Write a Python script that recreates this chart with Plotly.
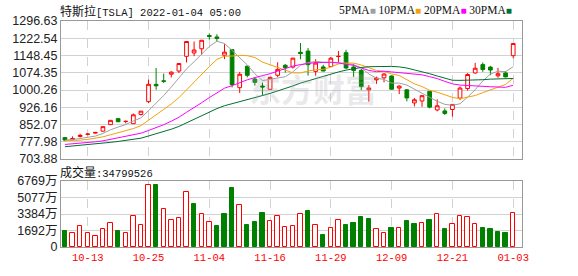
import plotly.graph_objects as go
import pandas as pd

# ---------------- data ----------------
dates = ["10-08","10-11","10-12","10-13","10-14","10-15","10-18","10-19","10-20","10-21","10-22",
         "10-25","10-26","10-27","10-28","10-29","11-01","11-02","11-03","11-04","11-05","11-08",
         "11-09","11-10","11-11","11-12","11-15","11-16","11-17","11-18","11-19","11-22","11-23",
         "11-24","11-26","11-29","11-30","12-01","12-02","12-03","12-06","12-07","12-08","12-09",
         "12-10","12-13","12-14","12-15","12-16","12-17","12-20","12-21","12-22","12-23","12-27",
         "12-28","12-29","12-30","12-31","01-03"]

opens = [796.21, 787.65, 800.93, 810.47, 815.49, 823.74, 851.77, 877.53, 865.35, 856.00, 895.50,
         950.53, 1024.69, 1039.66, 1068.31, 1081.86, 1145.00, 1159.36, 1177.33, 1234.41, 1228.00,
         1149.79, 1173.60, 1010.41, 1102.77, 1047.50, 1017.63, 1003.31, 1063.51, 1106.55, 1098.87,
         1162.33, 1167.51, 1080.39, 1099.47, 1100.99, 1144.37, 1160.70, 1099.06, 1084.79, 1001.51,
         1044.20, 1052.71, 1060.64, 1008.75, 1001.09, 945.00, 953.21, 994.50, 914.77, 910.80,
         916.87, 965.66, 1006.80, 1073.67, 1109.49, 1098.64, 1061.33, 1073.44, 1147.75]
highs = [796.38, 801.24, 812.32, 815.41, 820.25, 843.21, 870.80, 877.95, 869.49, 900.00, 910.00,
         1045.02, 1094.94, 1070.88, 1081.00, 1115.21, 1209.75, 1208.59, 1215.39, 1243.49, 1239.87,
         1197.00, 1174.50, 1078.10, 1104.97, 1054.50, 1031.98, 1057.20, 1119.64, 1112.00, 1138.72,
         1201.95, 1180.50, 1132.77, 1108.78, 1142.67, 1168.00, 1172.84, 1113.00, 1090.58, 1021.64,
         1057.67, 1072.38, 1062.49, 1020.98, 1005.00, 966.41, 978.75, 994.98, 960.66, 921.69,
         939.50, 1015.66, 1072.98, 1117.00, 1119.00, 1104.00, 1095.55, 1082.00, 1201.07]
lows = [780.91, 785.50, 796.57, 805.78, 813.35, 822.35, 851.02, 862.51, 857.38, 855.50, 890.96,
        944.20, 1001.44, 1030.78, 1054.20, 1073.21, 1118.66, 1146.00, 1152.62, 1217.00, 1208.00,
        1133.00, 1011.52, 987.31, 1054.68, 1019.20, 978.60, 1002.18, 1055.50, 1075.02, 1092.70,
        1132.43, 1062.70, 1062.00, 1081.00, 1100.19, 1118.00, 1090.76, 1056.65, 1000.21, 950.50,
        1026.81, 1033.00, 1002.36, 982.53, 951.42, 930.00, 928.25, 921.85, 909.04, 893.39,
        886.12, 957.05, 997.56, 1070.72, 1078.42, 1064.14, 1053.15, 1054.59, 1136.72]
closes = [785.49, 791.94, 805.72, 811.08, 818.32, 843.03, 870.11, 864.27, 865.80, 894.00, 909.68,
          1024.86, 1018.43, 1037.86, 1077.04, 1114.00, 1208.59, 1172.00, 1213.86, 1229.91, 1222.09,
          1162.94, 1023.50, 1067.95, 1063.51, 1033.42, 1013.39, 1054.73, 1089.01, 1096.38, 1137.06,
          1156.87, 1109.03, 1116.00, 1081.92, 1136.99, 1144.76, 1095.00, 1084.60, 1014.97, 1009.01,
          1051.75, 1068.96, 1003.80, 1017.03, 966.41, 958.51, 975.99, 926.92, 932.57, 899.94,
          938.53, 1008.87, 1067.00, 1093.94, 1088.47, 1086.19, 1070.34, 1056.78, 1199.78]
# closes of the 29 sessions before the first bar (needed for the moving averages)
pre_closes = [711.92, 730.91, 735.72, 734.09, 732.39, 733.57, 752.92, 753.87, 754.86, 736.27,
              743.00, 744.49, 755.83, 756.99, 759.49, 730.17, 739.38, 751.94, 753.64, 774.39,
              791.36, 777.56, 781.31, 775.48, 775.22, 781.53, 780.59, 782.75, 793.61]
# volume in 万 shares
volumes = [1652, 1387, 2147, 1387, 1156, 1883, 2477, 1685, 1387, 3171, 2279,
           6342, 6375, 3865, 2775, 2973, 5648, 4360, 3435, 2543, 2180, 3369,
           6044, 4327, 2279, 2576, 3468, 2642, 3138, 2048, 2147, 3336, 3666,
           2246, 1189, 1949, 2741, 2279, 2477, 3072, 2900, 1850, 1387, 1982,
           1949, 2675, 2378, 2444, 2775, 3336, 1883, 2345, 3138, 3039, 2345,
           1949, 1883, 1585, 1387, 3480]
last_volume = 34799526

price_ticks = [703.88, 777.98, 852.07, 926.16, 1000.26, 1074.35, 1148.45, 1222.54, 1296.63]
vol_ticks = [0, 1692, 3384, 5077, 6769]
vol_tick_text = ["0", "1692万", "3384万", "5077万", "6769万"]
x_tick_labels = ["10-13", "10-25", "11-04", "11-16", "11-29", "12-09", "12-21", "01-03"]
ma_periods = [5, 10, 20, 30]
ma_colors = ["#a0a0a0", "#f0a30a", "#ff00ff", "#00702e"]

stock_name = "特斯拉"
title_rest = "[TSLA] 2022-01-04 05:00"
vol_label = "成交量"

# ---------------- figure ----------------
RED = "#ff0000"
GREEN = "#008000"

all_close = pd.Series(pre_closes + closes)

fig = go.Figure()

fig.add_trace(go.Candlestick(
    x=dates, open=opens, high=highs, low=lows, close=closes,
    increasing=dict(line=dict(color=RED, width=1), fillcolor="#ffffff"),
    decreasing=dict(line=dict(color=GREEN, width=1), fillcolor=GREEN),
    whiskerwidth=0, xaxis="x", yaxis="y", showlegend=False, hoverinfo="skip"))

for p, c in zip(ma_periods, ma_colors):
    ma = all_close.rolling(p).mean().iloc[len(pre_closes):].tolist()
    fig.add_trace(go.Scatter(x=dates, y=ma, mode="lines", line=dict(color=c, width=1),
                             xaxis="x", yaxis="y", showlegend=False, hoverinfo="skip"))

prev = [pre_closes[-1]] + closes[:-1]
up = [c >= p for c, p in zip(closes, prev)]
fig.add_trace(go.Bar(
    x=dates, y=volumes, width=0.58,
    marker=dict(color=["#ffffff" if u else GREEN for u in up],
                line=dict(color=[RED if u else GREEN for u in up], width=1)),
    xaxis="x2", yaxis="y2", showlegend=False, hoverinfo="skip"))

grid = "#d2d2d2"
frame = "#999999"
xcommon = dict(type="category", range=[-0.52, 60.16], tickvals=x_tick_labels,
               showgrid=True, gridcolor=grid, griddash="dash", gridwidth=1,
               showline=True, mirror=True, linecolor=frame, linewidth=1,
               ticks="", zeroline=False, fixedrange=True)
fig.update_layout(
    width=578, height=276,
    margin=dict(l=56, r=56, t=21, b=21),
    paper_bgcolor="white", plot_bgcolor="white",
    font=dict(family="Liberation Sans, Noto Sans CJK SC", size=12, color="#222"),
    xaxis=dict(**xcommon, anchor="y", showticklabels=False, rangeslider=dict(visible=False)),
    xaxis2=dict(**xcommon, anchor="y2", matches="x", showticklabels=True,
                tickfont=dict(family="Liberation Mono", size=10.5, color=RED)),
    yaxis=dict(domain=[0.389, 1], range=[price_ticks[0], price_ticks[-1]],
               tickvals=price_ticks, ticktext=[f"{v:.2f}" for v in price_ticks],
               showgrid=True, gridcolor=grid, showline=True, mirror=True, linecolor=frame,
               ticks="", zeroline=False, tickfont=dict(size=12.5, color="#222")),
    yaxis2=dict(domain=[0, 0.292], range=[0, vol_ticks[-1]],
                tickvals=vol_ticks, ticktext=vol_tick_text,
                showgrid=True, gridcolor=grid, showline=True, mirror=True, linecolor=frame,
                ticks="", zeroline=False, tickfont=dict(size=12.5, color="#222")),
    bargap=0,
)

cjk = "font-family:Noto Sans CJK SC;font-size:12px"
legend_html = " ".join(
    f"{p}PMA<span style='color:{c};font-size:10px'>■</span>" for p, c in zip(ma_periods, ma_colors))

fig.add_annotation(text=f"<span style='{cjk}'>{stock_name}</span>{title_rest}",
                   xref="paper", yref="paper", x=-0.006, y=1.047,
                   xanchor="left", yanchor="middle", showarrow=False,
                   font=dict(family="Liberation Mono", size=10.5, color="#111"))
fig.add_annotation(text=legend_html, xref="paper", yref="paper", x=0.982, y=1.047,
                   xanchor="right", yanchor="middle", showarrow=False,
                   font=dict(family="Liberation Serif", size=11.5, color="#111"))
fig.add_annotation(text=f"<span style='{cjk}'>{vol_label}</span>:{last_volume}",
                   xref="paper", yref="paper", x=-0.006, y=0.333,
                   xanchor="left", yanchor="middle", showarrow=False,
                   font=dict(family="Liberation Mono", size=10.5, color="#111"))
fig.add_annotation(text="<b>东方财富</b>", xref="paper", yref="paper",
                   x=(311 - 56) / 466, y=(255 - 90) / 234,
                   xanchor="center", yanchor="middle", showarrow=False,
                   font=dict(family="Noto Sans CJK SC", size=32, color="rgba(170,170,180,0.25)"))

fig.write_html("out.html")
